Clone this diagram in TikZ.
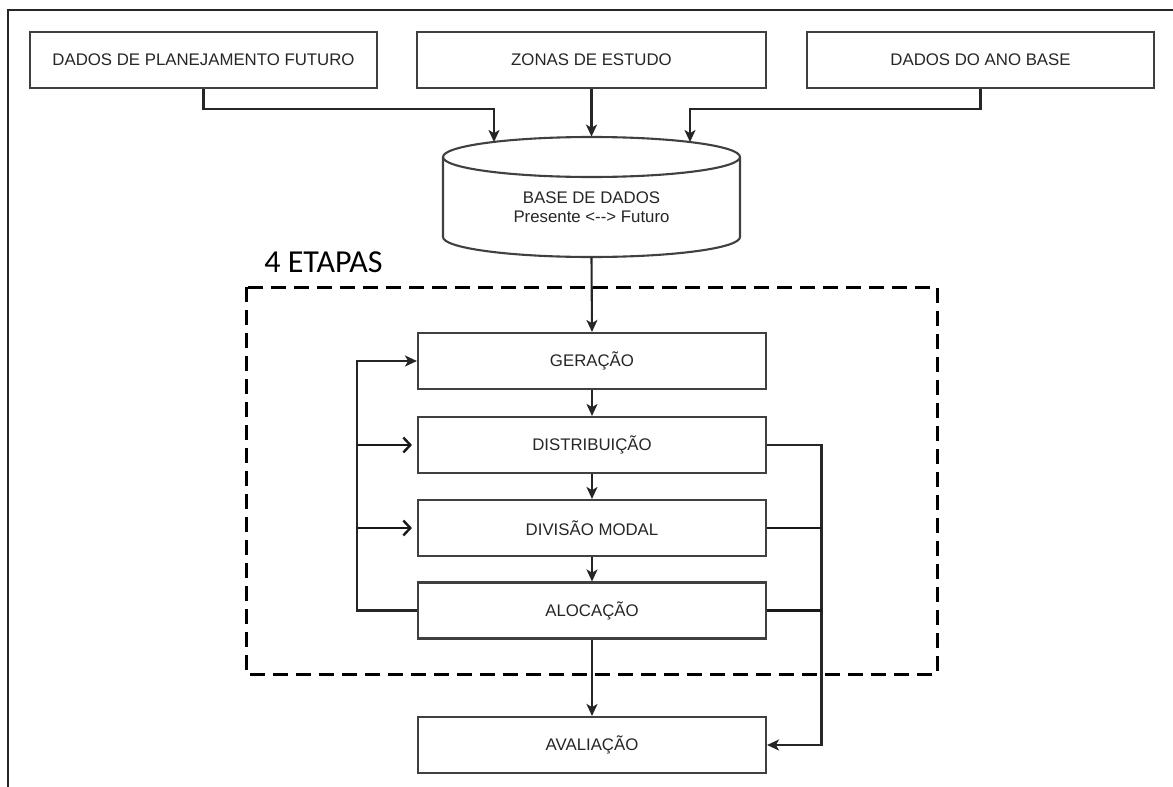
\documentclass[tikz,border=0pt]{standalone}
\usepackage{fontspec}
\newfontfamily\diagfont{Liberation Sans}
\newfontfamily\titlefont{Carlito}
\usetikzlibrary{arrows.meta,calc}

\tikzset{
  boxline/.style={draw=black!75, line width=1.05pt},
  stagebox/.style={boxline, rectangle, fill=white, inner sep=0pt,
    minimum width=174pt, minimum height=28pt,
    font=\diagfont\fontsize{8.4pt}{9.5pt}\selectfont, text=black!85},
  flow/.style={draw=black!85, line width=1.05pt,
    -{Stealth[length=6pt,width=5.5pt,inset=1.6pt]}},
  heavy/.style={draw=black!90, line width=1.4pt},
  branch/.style={heavy, -{Straight Barb[length=3.5pt,width=7.5pt,line width=1.2pt]},
    shorten >=2.5pt},
  stagegroup/.style={draw=black, line width=1.5pt, dash pattern=on 7.5pt off 4pt},
}

\begin{document}
\begin{tikzpicture}[x=0.5pt,y=-0.5pt]
  \useasboundingbox (0,0) rectangle (1173,787);

  % page frame (top and left edges only)
  \draw[line width=1.3pt, black!85] (8,787) -- (8,10) -- (1173,10);

  % input data
  \node[stagebox, minimum width=173.5pt] (plan) at (203.5,60) {DADOS DE PLANEJAMENTO FUTURO};
  \node[stagebox, minimum width=174.5pt] (zonas) at (591.5,60) {ZONAS DE ESTUDO};
  \node[stagebox, minimum width=173.5pt] (base) at (980.5,60) {DADOS DO ANO BASE};

  % database cylinder
  \node[inner sep=0pt, minimum width=148.5pt, minimum height=60pt] (db) at (591.5,197) {};
  \draw[boxline, fill=white]
    (443,157) -- (443,237)
    arc[start angle=180, end angle=360, x radius=74.25pt, y radius=10pt]
    -- (740,157)
    arc[start angle=0, end angle=180, x radius=74.25pt, y radius=10pt] -- cycle;
  \draw[boxline] (443,157)
    arc[start angle=180, end angle=360, x radius=74.25pt, y radius=10pt];
  \node[font=\diagfont\fontsize{8.4pt}{9.5pt}\selectfont, text=black!85, align=center]
    (dbtext) at (591.5,207.5) {BASE DE DADOS\\Presente <--> Futuro};
  \coordinate (dbL) at (494,142);
  \coordinate (dbR) at (690,142);

  % four-stage model
  \draw[stagegroup] (246,287) rectangle (937,674);
  \node[font=\titlefont\fontsize{16pt}{18pt}\selectfont, text=black, anchor=west,
    inner sep=0pt] (etapas) at (264,262) {4 ETAPAS};

  \node[stagebox] (ger) at (592,361) {GERAÇÃO};
  \node[stagebox] (dist) at (592,445) {DISTRIBUIÇÃO};
  \node[stagebox] (div) at (592,528) {DIVISÃO MODAL};
  \node[stagebox] (aloc) at (592,610.5) {ALOCAÇÃO};
  \node[stagebox] (aval) at (592,745) {AVALIAÇÃO};

  \coordinate (lx) at (357,0);
  \coordinate (rx) at (821.5,0);

  % inputs into the database
  \draw[flow] (plan.south) -- ++(0,20) -| (dbL);
  \draw[flow] (zonas.south) -- (db.north);
  \draw[flow] (base.south) -- ++(0,20) -| (dbR);

  % main sequence
  \draw[flow] (db.south) -- (ger.north);
  \draw[flow] (ger.south) -- (dist.north);
  \draw[flow] (dist.south) -- (div.north);
  \draw[flow] (div.south) -- (aloc.north);
  \draw[flow] (aloc.south) -- (aval.north);

  % feedback loop on the left
  \draw[flow] (aloc.west) -- (lx |- aloc.west) |- (ger.west);
  \draw[branch] (lx |- dist.west) -- (dist.west);
  \draw[branch] (lx |- div.west) -- (div.west);

  % results towards evaluation on the right
  \draw[flow] (dist.east) -- (rx |- dist.east) |- (aval.east);
  \draw[heavy] (div.east) -- (rx |- div.east);
  \draw[heavy] (aloc.east) -- (rx |- aloc.east);
\end{tikzpicture}
\end{document}
